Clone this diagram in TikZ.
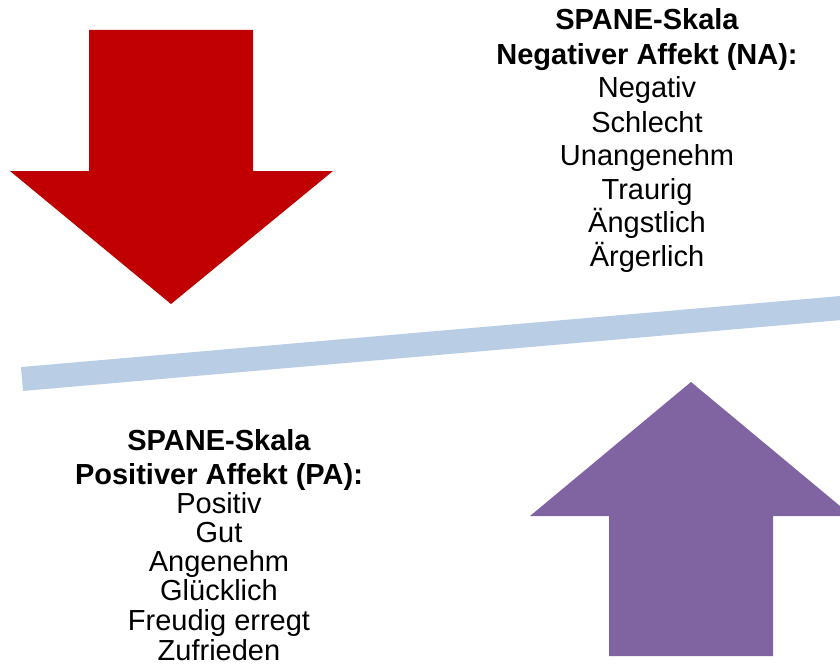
\documentclass[tikz,border=0pt]{standalone}
\usepackage{fontspec}
\setmainfont{Liberation Sans}
\definecolor{arrowred}{HTML}{C00000}
\definecolor{arrowpurple}{HTML}{8064A2}
\definecolor{barblue}{HTML}{B9CDE5}
\begin{document}
\begin{tikzpicture}[x=1pt,y=-1pt,
  lbl/.style={inner sep=0pt, anchor=base, font=\fontsize{29pt}{34pt}\selectfont},
  hdr/.style={lbl, font=\fontsize{29pt}{34pt}\selectfont\bfseries}]
\useasboundingbox (0,0) rectangle (840,666);
\clip (0,0) rectangle (840,666);
% balance bar
\draw[barblue, line width=24pt, line cap=butt] (22,379) -- (862,306.2);
% red arrow (down)
\fill[arrowred] (89,30) -- (253,30) -- (253,171) -- (333,171) -- (171,304)
  -- (10,171) -- (89,171) -- cycle;
% purple arrow (up)
\fill[arrowpurple] (609,656) -- (773,656) -- (773,516) -- (852,516) -- (691,382)
  -- (530,516) -- (609,516) -- cycle;
% right text block
\node[hdr] (na1) at (647,30) {SPANE-Skala};
\node[hdr] (na2) at (647,65) {Negativer Affekt (NA):};
\node[lbl] (na3) at (647,98) {Negativ};
\node[lbl] (na4) at (647,132) {Schlecht};
\node[lbl] (na5) at (647,165) {Unangenehm};
\node[lbl] (na6) at (647,199) {Traurig};
\node[lbl] (na7) at (647,232) {Ängstlich};
\node[lbl] (na8) at (647,266) {Ärgerlich};
% left text block
\node[hdr] (pa1) at (219,450) {SPANE-Skala};
\node[hdr] (pa2) at (219,484) {Positiver Affekt (PA):};
\node[lbl] (pa3) at (219,513) {Positiv};
\node[lbl] (pa4) at (219,542) {Gut};
\node[lbl] (pa5) at (219,571) {Angenehm};
\node[lbl] (pa6) at (219,600) {Glücklich};
\node[lbl] (pa7) at (219,630) {Freudig erregt};
\node[lbl] (pa8) at (219,660) {Zufrieden};
\end{tikzpicture}
\end{document}
